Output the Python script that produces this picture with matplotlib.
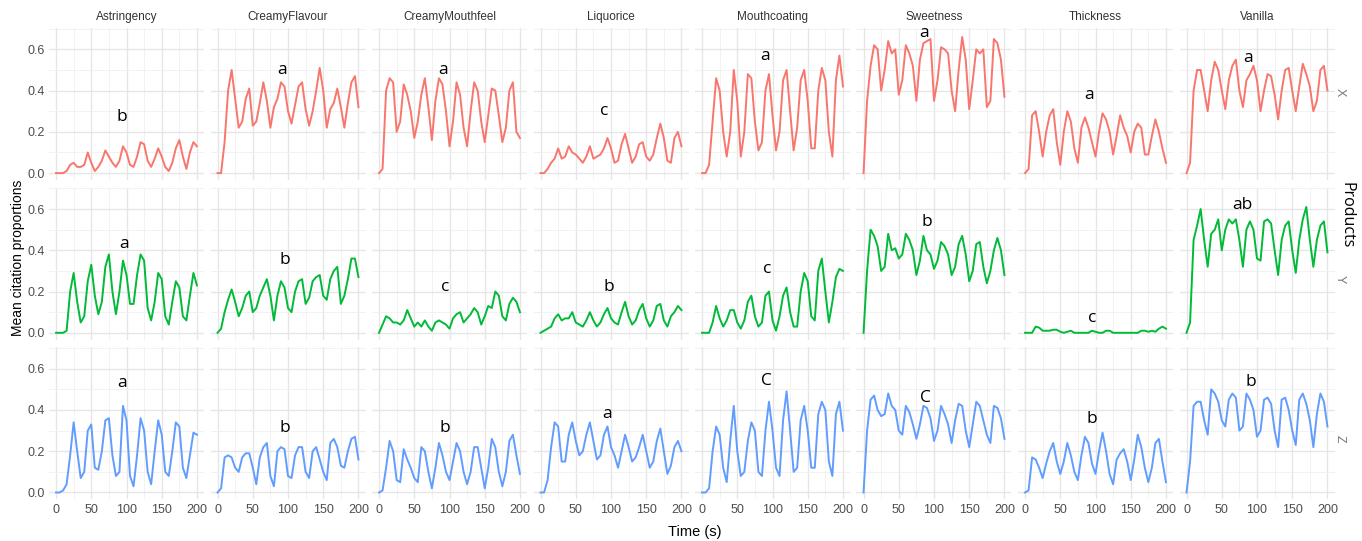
import matplotlib
matplotlib.use("Agg")
import matplotlib.pyplot as plt
from matplotlib.ticker import MultipleLocator
import numpy as np

plt.rcParams['font.family'] = ['Liberation Sans', 'DejaVu Sans']

# time grid (s), values read every 5 s
time_s = list(range(0, 201, 5))

attributes = ['Astringency', 'CreamyFlavour', 'CreamyMouthfeel', 'Liquorice',
              'Mouthcoating', 'Sweetness', 'Thickness', 'Vanilla']
products = ['X', 'Y', 'Z']
product_colors = ['#F8766D', '#00BA38', '#619CFF']

# ---- product X ----
astringency_x = [0, 0, 0, 0.01, 0.04, 0.05, 0.03, 0.03, 0.04, 0.10, 0.05, 0.01, 0.03, 0.06, 0.11, 0.08, 0.05, 0.03, 0.06, 0.13, 0.10,
                 0.04, 0.03, 0.08, 0.15, 0.14, 0.06, 0.03, 0.07, 0.12, 0.08, 0.03, 0.01, 0.05, 0.12, 0.16, 0.08, 0.02, 0.10, 0.15, 0.13]
creamyflavour_x = [0, 0, 0.15, 0.40, 0.50, 0.36, 0.22, 0.25, 0.36, 0.41, 0.23, 0.25, 0.34, 0.44, 0.35, 0.22, 0.32, 0.36, 0.44, 0.42, 0.30,
                   0.24, 0.33, 0.42, 0.44, 0.31, 0.23, 0.30, 0.40, 0.51, 0.40, 0.22, 0.31, 0.34, 0.41, 0.32, 0.22, 0.34, 0.44, 0.47, 0.32]
creamymouthfeel_x = [0, 0.02, 0.40, 0.46, 0.44, 0.20, 0.25, 0.43, 0.38, 0.30, 0.17, 0.25, 0.38, 0.46, 0.32, 0.16, 0.35, 0.46, 0.43, 0.30, 0.13,
                     0.25, 0.44, 0.38, 0.22, 0.13, 0.30, 0.44, 0.40, 0.25, 0.15, 0.28, 0.41, 0.40, 0.28, 0.15, 0.22, 0.40, 0.44, 0.20, 0.17]
liquorice_x = [0, 0, 0.02, 0.05, 0.07, 0.12, 0.07, 0.08, 0.13, 0.10, 0.09, 0.07, 0.05, 0.08, 0.13, 0.07, 0.08, 0.09, 0.12, 0.17, 0.12,
               0.05, 0.06, 0.14, 0.19, 0.12, 0.05, 0.08, 0.14, 0.15, 0.08, 0.06, 0.09, 0.17, 0.24, 0.17, 0.06, 0.05, 0.17, 0.20, 0.13]
mouthcoating_x = [0, 0, 0.04, 0.25, 0.46, 0.40, 0.20, 0.08, 0.20, 0.50, 0.35, 0.08, 0.20, 0.48, 0.46, 0.25, 0.11, 0.15, 0.40, 0.48, 0.28,
                  0.11, 0.20, 0.45, 0.50, 0.30, 0.11, 0.22, 0.45, 0.50, 0.35, 0.12, 0.12, 0.40, 0.51, 0.45, 0.20, 0.08, 0.45, 0.57, 0.42]
sweetness_x = [0, 0.35, 0.52, 0.62, 0.60, 0.40, 0.50, 0.64, 0.58, 0.60, 0.38, 0.45, 0.62, 0.58, 0.52, 0.35, 0.55, 0.63, 0.64, 0.65, 0.35,
               0.45, 0.61, 0.60, 0.58, 0.40, 0.30, 0.50, 0.66, 0.55, 0.31, 0.45, 0.60, 0.58, 0.60, 0.32, 0.35, 0.65, 0.63, 0.55, 0.37]
thickness_x = [0, 0.02, 0.28, 0.30, 0.20, 0.08, 0.20, 0.28, 0.31, 0.15, 0.04, 0.20, 0.30, 0.25, 0.12, 0.05, 0.22, 0.27, 0.22, 0.15, 0.08,
               0.20, 0.29, 0.26, 0.20, 0.09, 0.18, 0.28, 0.22, 0.18, 0.10, 0.20, 0.24, 0.22, 0.09, 0.09, 0.18, 0.26, 0.20, 0.12, 0.05]
vanilla_x = [0, 0.05, 0.40, 0.50, 0.50, 0.40, 0.30, 0.45, 0.54, 0.50, 0.40, 0.31, 0.45, 0.52, 0.55, 0.40, 0.32, 0.45, 0.48, 0.52, 0.45,
             0.30, 0.40, 0.48, 0.47, 0.38, 0.26, 0.40, 0.50, 0.51, 0.40, 0.30, 0.42, 0.53, 0.48, 0.42, 0.30, 0.35, 0.50, 0.52, 0.40]

# ---- product Y ----
astringency_y = [0, 0, 0, 0.01, 0.20, 0.29, 0.15, 0.05, 0.08, 0.25, 0.33, 0.18, 0.09, 0.15, 0.32, 0.38, 0.20, 0.09, 0.20, 0.35, 0.28,
                 0.14, 0.14, 0.28, 0.38, 0.35, 0.12, 0.06, 0.15, 0.29, 0.26, 0.08, 0.04, 0.15, 0.25, 0.22, 0.08, 0.06, 0.18, 0.29, 0.23]
creamyflavour_y = [0, 0.02, 0.10, 0.16, 0.21, 0.15, 0.08, 0.12, 0.18, 0.20, 0.10, 0.12, 0.18, 0.22, 0.26, 0.18, 0.06, 0.18, 0.25, 0.22, 0.12,
                   0.10, 0.20, 0.25, 0.26, 0.14, 0.17, 0.25, 0.27, 0.28, 0.18, 0.16, 0.26, 0.30, 0.32, 0.14, 0.18, 0.26, 0.36, 0.36, 0.27]
creamymouthfeel_y = [0, 0.04, 0.08, 0.07, 0.05, 0.05, 0.04, 0.06, 0.11, 0.07, 0.03, 0.05, 0.03, 0.06, 0.03, 0.01, 0.05, 0.06, 0.05, 0.04, 0.02,
                     0.07, 0.09, 0.10, 0.05, 0.07, 0.09, 0.12, 0.10, 0.04, 0.08, 0.13, 0.12, 0.20, 0.18, 0.08, 0.06, 0.14, 0.17, 0.15, 0.10]
liquorice_y = [0, 0.01, 0.02, 0.03, 0.07, 0.09, 0.06, 0.07, 0.07, 0.10, 0.05, 0.04, 0.03, 0.06, 0.10, 0.06, 0.03, 0.05, 0.09, 0.12, 0.07,
               0.05, 0.04, 0.10, 0.15, 0.08, 0.04, 0.06, 0.11, 0.14, 0.07, 0.03, 0.06, 0.13, 0.14, 0.06, 0.03, 0.08, 0.10, 0.13, 0.11]
mouthcoating_y = [0, 0, 0, 0.05, 0.13, 0.07, 0.03, 0.06, 0.11, 0.11, 0.05, 0.02, 0.06, 0.15, 0.18, 0.08, 0.03, 0.05, 0.18, 0.20, 0.06,
                  0.01, 0.08, 0.18, 0.22, 0.10, 0.03, 0.03, 0.20, 0.29, 0.25, 0.08, 0.06, 0.30, 0.36, 0.20, 0.05, 0.15, 0.27, 0.31, 0.30]
sweetness_y = [0, 0.30, 0.50, 0.47, 0.42, 0.30, 0.32, 0.48, 0.40, 0.41, 0.36, 0.38, 0.48, 0.45, 0.40, 0.28, 0.35, 0.47, 0.40, 0.38, 0.31,
               0.35, 0.44, 0.42, 0.38, 0.28, 0.32, 0.43, 0.47, 0.38, 0.25, 0.30, 0.43, 0.44, 0.32, 0.24, 0.30, 0.40, 0.46, 0.40, 0.28]
thickness_y = [0, 0, 0, 0.03, 0.025, 0.01, 0.01, 0.01, 0.015, 0.015, 0.005, 0, 0.005, 0.01, 0, 0, 0, 0, 0, 0.01, 0.005,
               0, 0, 0.01, 0.01, 0, 0, 0, 0, 0, 0, 0, 0, 0.01, 0.01, 0.005, 0.01, 0.005, 0.02, 0.03, 0.02]
vanilla_y = [0, 0.05, 0.45, 0.52, 0.60, 0.45, 0.32, 0.48, 0.50, 0.55, 0.40, 0.50, 0.55, 0.53, 0.55, 0.45, 0.32, 0.50, 0.54, 0.50, 0.36,
             0.35, 0.54, 0.55, 0.53, 0.40, 0.28, 0.45, 0.52, 0.54, 0.40, 0.29, 0.45, 0.55, 0.61, 0.45, 0.32, 0.45, 0.52, 0.54, 0.39]

# ---- product Z ----
astringency_z = [0, 0, 0.01, 0.04, 0.18, 0.34, 0.20, 0.07, 0.10, 0.30, 0.33, 0.12, 0.11, 0.20, 0.35, 0.36, 0.18, 0.08, 0.10, 0.42, 0.35,
                 0.08, 0.03, 0.18, 0.36, 0.30, 0.10, 0.04, 0.20, 0.35, 0.28, 0.10, 0.08, 0.20, 0.34, 0.32, 0.12, 0.07, 0.18, 0.29, 0.28]
creamyflavour_z = [0, 0.02, 0.17, 0.18, 0.17, 0.12, 0.10, 0.17, 0.19, 0.19, 0.12, 0.04, 0.17, 0.22, 0.24, 0.08, 0.03, 0.20, 0.22, 0.21, 0.08,
                   0.07, 0.18, 0.22, 0.22, 0.10, 0.07, 0.20, 0.22, 0.16, 0.10, 0.06, 0.24, 0.26, 0.22, 0.13, 0.12, 0.20, 0.26, 0.27, 0.16]
creamymouthfeel_z = [0, 0.01, 0.12, 0.25, 0.20, 0.06, 0.05, 0.21, 0.16, 0.12, 0.07, 0.05, 0.22, 0.20, 0.10, 0.02, 0.12, 0.24, 0.18, 0.10, 0.06,
                     0.15, 0.24, 0.20, 0.10, 0.04, 0.10, 0.22, 0.22, 0.12, 0.02, 0.12, 0.26, 0.22, 0.10, 0.03, 0.10, 0.25, 0.28, 0.18, 0.09]
liquorice_z = [0, 0, 0.06, 0.22, 0.34, 0.32, 0.15, 0.15, 0.28, 0.34, 0.25, 0.18, 0.20, 0.28, 0.34, 0.25, 0.16, 0.18, 0.28, 0.32, 0.22,
               0.18, 0.12, 0.20, 0.28, 0.22, 0.15, 0.17, 0.22, 0.28, 0.20, 0.12, 0.15, 0.25, 0.31, 0.20, 0.09, 0.13, 0.22, 0.25, 0.20]
mouthcoating_z = [0, 0, 0.02, 0.20, 0.32, 0.28, 0.12, 0.05, 0.25, 0.42, 0.20, 0.08, 0.10, 0.25, 0.34, 0.30, 0.10, 0.08, 0.30, 0.44, 0.30,
                  0.12, 0.08, 0.35, 0.49, 0.30, 0.10, 0.12, 0.35, 0.42, 0.30, 0.12, 0.12, 0.38, 0.44, 0.40, 0.15, 0.08, 0.38, 0.44, 0.30]
sweetness_z = [0, 0.30, 0.45, 0.47, 0.40, 0.37, 0.38, 0.48, 0.42, 0.40, 0.30, 0.28, 0.42, 0.39, 0.33, 0.26, 0.33, 0.42, 0.41, 0.36, 0.25,
               0.30, 0.42, 0.38, 0.33, 0.24, 0.35, 0.43, 0.42, 0.30, 0.22, 0.33, 0.44, 0.42, 0.35, 0.28, 0.24, 0.42, 0.41, 0.36, 0.26]
thickness_z = [0, 0.01, 0.17, 0.16, 0.12, 0.07, 0.14, 0.20, 0.24, 0.15, 0.09, 0.15, 0.24, 0.18, 0.10, 0.06, 0.18, 0.27, 0.24, 0.14, 0.09,
               0.20, 0.29, 0.20, 0.09, 0.04, 0.16, 0.19, 0.21, 0.15, 0.06, 0.16, 0.28, 0.22, 0.12, 0.05, 0.12, 0.24, 0.26, 0.15, 0.05]
vanilla_z = [0, 0.15, 0.42, 0.44, 0.44, 0.35, 0.28, 0.50, 0.48, 0.44, 0.35, 0.32, 0.45, 0.48, 0.46, 0.30, 0.32, 0.48, 0.45, 0.40, 0.27,
             0.30, 0.45, 0.46, 0.43, 0.30, 0.22, 0.45, 0.46, 0.40, 0.30, 0.23, 0.45, 0.48, 0.43, 0.35, 0.22, 0.38, 0.48, 0.44, 0.32]

series = {
    'X': [astringency_x, creamyflavour_x, creamymouthfeel_x, liquorice_x, mouthcoating_x, sweetness_x, thickness_x, vanilla_x],
    'Y': [astringency_y, creamyflavour_y, creamymouthfeel_y, liquorice_y, mouthcoating_y, sweetness_y, thickness_y, vanilla_y],
    'Z': [astringency_z, creamyflavour_z, creamymouthfeel_z, liquorice_z, mouthcoating_z, sweetness_z, thickness_z, vanilla_z],
}

# significance letters: (text, time, y) per panel
letters_x = [('b', 94, 0.27), ('a', 92, 0.50), ('a', 91, 0.50), ('c', 91, 0.30),
             ('a', 90, 0.57), ('a', 86, 0.68), ('a', 91, 0.38), ('a', 87, 0.56)]
letters_y = [('a', 96, 0.43), ('b', 96, 0.355), ('c', 94, 0.224), ('b', 97, 0.224),
             ('c', 92, 0.31), ('b', 90, 0.536), ('c', 96, 0.07), ('ab', 79, 0.62)]
letters_z = [('a', 94, 0.53), ('b', 95, 0.315), ('b', 94, 0.315), ('a', 94, 0.38),
             ('C', 92, 0.54), ('C', 88, 0.46), ('b', 95, 0.355), ('b', 91, 0.536)]
letters = {'X': letters_x, 'Y': letters_y, 'Z': letters_z}

W, H = 1362, 541
fig = plt.figure(figsize=(W / 100, H / 100), dpi=100)

panel_w, panel_h = 155, 152
left0, col_step = 49, 161.5
top0, row_step = 28, 159.7

for r, prod in enumerate(products):
    for c, attr in enumerate(attributes):
        left = left0 + c * col_step
        top = top0 + r * row_step
        ax = fig.add_axes([left / W, 1 - (top + panel_h) / H, panel_w / W, panel_h / H])
        ax.plot(time_s, series[prod][c], color=product_colors[r], lw=1.4)
        txt, tx, ty = letters[prod][c]
        ax.text(tx, ty, txt, ha='center', va='center', fontsize=12.5,
                family=['Open Sans', 'DejaVu Sans'], color='black')
        ax.set_xlim(-10, 210)
        ax.set_ylim(-0.0335, 0.7035)
        ax.xaxis.set_major_locator(MultipleLocator(50))
        ax.xaxis.set_minor_locator(MultipleLocator(25))
        ax.yaxis.set_major_locator(MultipleLocator(0.2))
        ax.yaxis.set_minor_locator(MultipleLocator(0.1))
        ax.grid(which='major', color='#E6E6E6', lw=1.0)
        ax.grid(which='minor', color='#F0F0F0', lw=0.6)
        ax.set_axisbelow(True)
        for s in ax.spines.values():
            s.set_visible(False)
        ax.tick_params(which='both', length=0, labelsize=9, labelcolor='#4D4D4D', pad=3)
        if c == 0:
            ax.set_yticklabels([f'{v:.1f}' for v in ax.get_yticks()])
        else:
            ax.set_yticklabels([])
        if r == len(products) - 1:
            ax.set_xticklabels([f'{int(v)}' for v in ax.get_xticks()])
        else:
            ax.set_xticklabels([])
        if r == 0:
            ax.set_title(attr, fontsize=8.5, color='#333333', pad=6)

# facet strip labels on the right
for prod, ypix in zip(products, [92, 279, 439]):
    fig.text(1340 / W, 1 - ypix / H, prod, rotation=-90, ha='center', va='center',
             fontsize=9, color='#777777')

fig.text(1347 / W, 1 - 215 / H, 'Products', rotation=-90, ha='center', va='center',
         fontsize=11.5, family=['Open Sans', 'DejaVu Sans'], color='black')
fig.text(18 / W, 1 - 258 / H, 'Mean citation proportions', rotation=90, ha='center', va='center',
         fontsize=10, color='black')
fig.text(695 / W, 1 - 532 / H, 'Time (s)', ha='center', va='center', fontsize=10.5, color='black')

fig.savefig('out.png', dpi=100, facecolor='white')
